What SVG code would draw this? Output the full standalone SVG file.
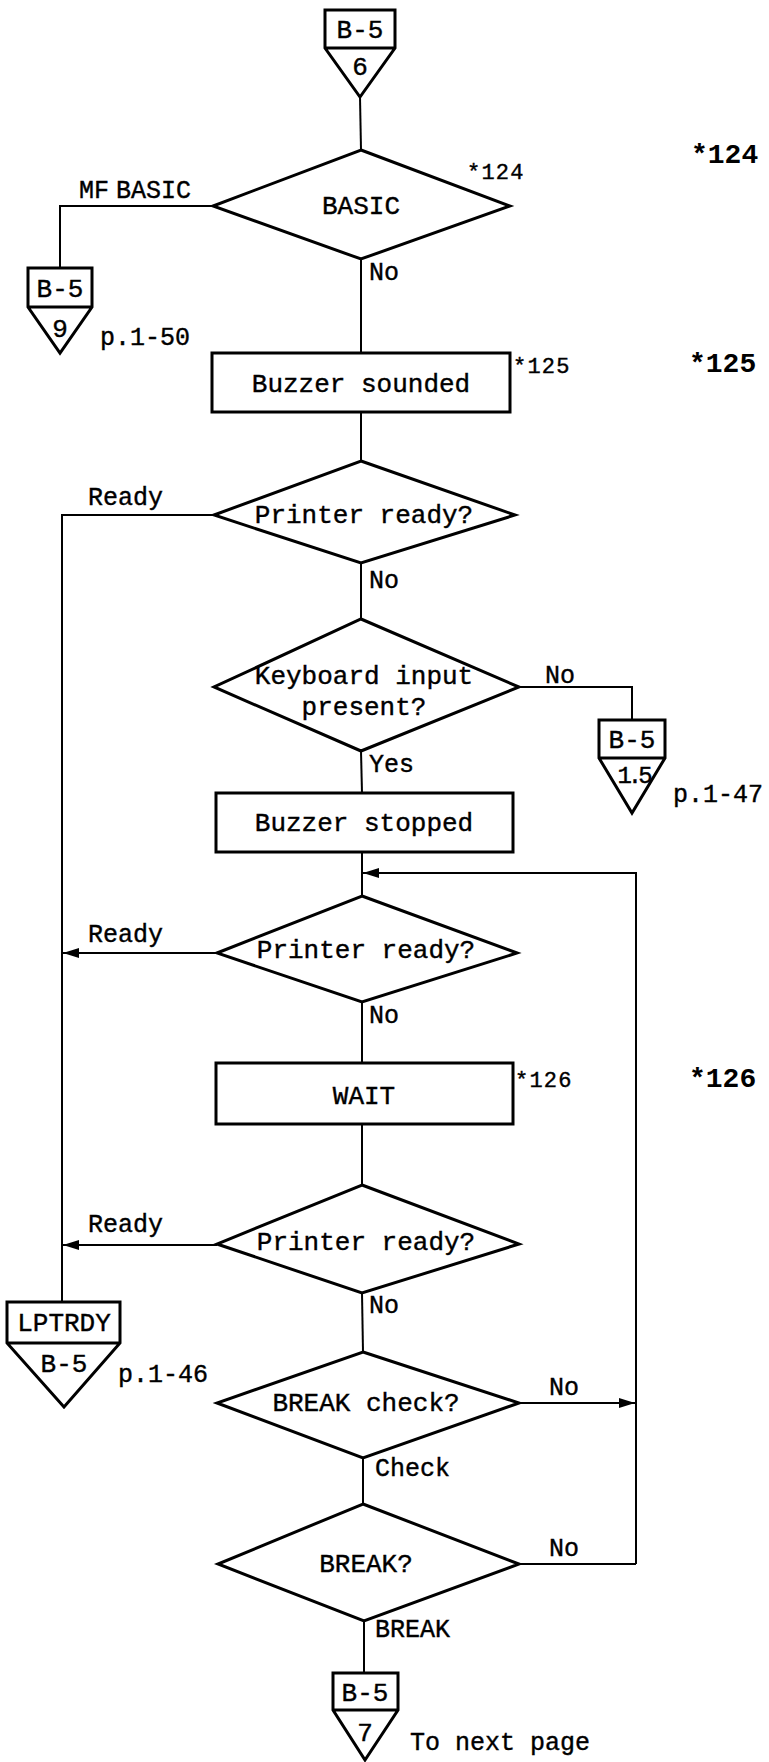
<svg xmlns="http://www.w3.org/2000/svg" width="769" height="1762" viewBox="0 0 769 1762">
<style>
.shape{fill:none;stroke:#000;stroke-width:3;stroke-linejoin:miter}
.ln{fill:none;stroke:#000;stroke-width:2}
text{font-family:"Liberation Mono","DejaVu Sans Mono",monospace;fill:#000;stroke:#000;stroke-width:0.4}
.t{font-size:26px;text-anchor:middle}
.lb{font-size:25px}
.sm{font-size:22px;letter-spacing:1.2px}
.big{font-size:28px;font-weight:bold;stroke-width:0}
.cn{font-size:26px;text-anchor:middle}
</style>
<defs>
<marker id="ah" viewBox="0 0 16 10" refX="16" refY="5" markerWidth="16" markerHeight="10" markerUnits="userSpaceOnUse" orient="auto">
<path d="M0,0 L16,5 L0,10 Z" fill="#000"/>
</marker>
</defs>

<g id="connectors">
<line class="ln" x1="360" y1="97" x2="361" y2="150"/>
<polyline class="ln" points="213,206 60,206 60,268"/>
<line class="ln" x1="361" y1="259" x2="361" y2="353"/>
<line class="ln" x1="361" y1="412" x2="361" y2="461"/>
<polyline class="ln" points="214,515 62,515 62,1302"/>
<line class="ln" x1="361" y1="563" x2="361" y2="619"/>
<polyline class="ln" points="519,687 632,687 632,720"/>
<line class="ln" x1="361" y1="751" x2="362" y2="793"/>
<line class="ln" x1="362" y1="852" x2="362" y2="896"/>
<polyline class="ln" points="636,1564 636,873 363,873" marker-end="url(#ah)"/>
<line class="ln" x1="217" y1="953" x2="63" y2="953" marker-end="url(#ah)"/>
<line class="ln" x1="362" y1="1002" x2="362" y2="1063"/>
<line class="ln" x1="362" y1="1124" x2="362" y2="1185"/>
<line class="ln" x1="217" y1="1245" x2="63" y2="1245" marker-end="url(#ah)"/>
<line class="ln" x1="362" y1="1293" x2="363" y2="1352"/>
<line class="ln" x1="519" y1="1403" x2="635" y2="1403" marker-end="url(#ah)"/>
<line class="ln" x1="363" y1="1458" x2="363" y2="1504"/>
<line class="ln" x1="519" y1="1564" x2="636" y2="1564"/>
<line class="ln" x1="364" y1="1621" x2="364" y2="1673"/>
</g>

<g id="labels">
<text class="lb" x="79" y="198" word-spacing="-8">MF BASIC</text>
<text class="lb" x="369" y="280">No</text>
<text class="lb" x="88" y="505">Ready</text>
<text class="lb" x="369" y="588">No</text>
<text class="lb" x="545" y="683">No</text>
<text class="lb" x="369" y="772">Yes</text>
<text class="lb" x="88" y="942">Ready</text>
<text class="lb" x="369" y="1023">No</text>
<text class="lb" x="88" y="1232">Ready</text>
<text class="lb" x="369" y="1313">No</text>
<text class="lb" x="549" y="1395">No</text>
<text class="lb" x="375" y="1476">Check</text>
<text class="lb" x="549" y="1556">No</text>
<text class="lb" x="375" y="1637">BREAK</text>
<text class="sm" x="467" y="179">*124</text>
<text class="sm" x="513" y="373">*125</text>
<text class="sm" x="515" y="1087">*126</text>
<text class="big" x="691" y="163">*124</text>
<text class="big" x="689" y="372">*125</text>
<text class="big" x="689" y="1087">*126</text>
<text class="lb" x="100" y="345">p.1-50</text>
<text class="lb" x="673" y="802">p.1-47</text>
<text class="lb" x="118" y="1382">p.1-46</text>
<text class="lb" x="410" y="1750">To next page</text>
</g>

<g id="conn-top">
<path class="shape" d="M325,10 H395 V48 L360,97 L325,48 Z M325,48 H395"/>
<text class="cn" x="360" y="38">B-5</text>
<text class="cn" x="360" y="75">6</text>
</g>

<g id="dec-basic">
<polygon class="shape" points="361,150 510,206 361,259 213,206"/>
<text class="t" x="361" y="214">BASIC</text>
</g>

<g id="conn-9">
<path class="shape" d="M28,268 H92 V307 L60,353 L28,307 Z M28,307 H92"/>
<text class="cn" x="60" y="297">B-5</text>
<text class="cn" x="60" y="337">9</text>
</g>

<g id="proc-buzzer-sounded">
<rect class="shape" x="212" y="353" width="298" height="59"/>
<text class="t" x="361" y="392">Buzzer sounded</text>
</g>

<g id="dec-printer1">
<polygon class="shape" points="361,461 515,515 361,563 214,515"/>
<text class="t" x="364" y="523">Printer ready?</text>
</g>

<g id="dec-keyboard">
<polygon class="shape" points="361,619 519,687 361,751 214,687"/>
<text class="t" x="364" y="684">Keyboard input</text>
<text class="t" x="364" y="715">present?</text>
</g>

<g id="conn-15">
<path class="shape" d="M599,720 H665 V758 L632,813 L599,758 Z M599,758 H665"/>
<text class="cn" x="632" y="748">B-5</text>
<text class="cn" x="633" y="783" style="font-size:24px;letter-spacing:-4px">1.5</text>
</g>

<g id="proc-buzzer-stopped">
<rect class="shape" x="216" y="793" width="297" height="59"/>
<text class="t" x="364" y="831">Buzzer stopped</text>
</g>

<g id="dec-printer2">
<polygon class="shape" points="362,896 517,953 362,1002 217,953"/>
<text class="t" x="366" y="958">Printer ready?</text>
</g>

<g id="proc-wait">
<rect class="shape" x="216" y="1063" width="297" height="61"/>
<text class="t" x="364" y="1104">WAIT</text>
</g>

<g id="dec-printer3">
<polygon class="shape" points="362,1185 519,1244 362,1293 217,1244"/>
<text class="t" x="366" y="1250">Printer ready?</text>
</g>

<g id="conn-lptrdy">
<path class="shape" d="M7,1302 H120 V1343 L64,1407 L7,1343 Z M7,1343 H120"/>
<text class="cn" x="64" y="1331">LPTRDY</text>
<text class="cn" x="64" y="1372">B-5</text>
</g>

<g id="dec-breakcheck">
<polygon class="shape" points="363,1352 519,1403 363,1458 217,1403"/>
<text class="t" x="366" y="1411">BREAK check?</text>
</g>

<g id="dec-break">
<polygon class="shape" points="363,1504 519,1564 364,1621 218,1564"/>
<text class="t" x="366" y="1572">BREAK?</text>
</g>

<g id="conn-bottom">
<path class="shape" d="M333,1673 H398 V1710 L365,1760 L333,1710 Z M333,1710 H398"/>
<text class="cn" x="365" y="1701">B-5</text>
<text class="cn" x="365" y="1741">7</text>
</g>
</svg>
